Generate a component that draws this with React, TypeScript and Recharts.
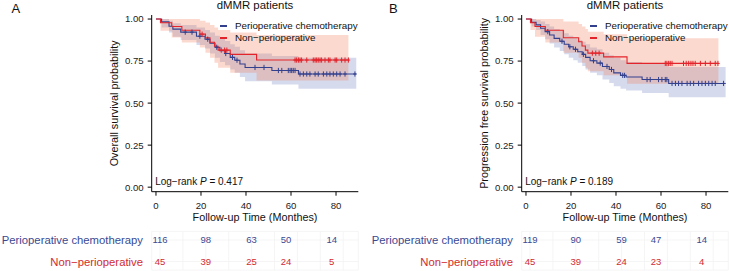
import React from 'react';
import { ComposedChart, Line, Area, Scatter, XAxis, YAxis, Legend, Label, CartesianGrid } from 'recharts';

const FONT = '"Liberation Sans", Arial, Helvetica, sans-serif';
const BLUE = '#33408D';
const RED = '#E3242B';
const BLUE_BAND = '#5565B5';
const RED_BAND = '#F07850';
const BLUE_TEXT = '#3B4992';
const RED_TEXT = '#D22B2F';

const groupNames = ['Perioperative chemotherapy', 'Non\u2212perioperative'];
const timeTicks = [0, 20, 40, 60, 80];
const survTicks = [0, 0.25, 0.5, 0.75, 1];
const gridTicks = [0, 10, 20, 30, 40, 50, 60, 70, 80];

// Panel A: overall survival
const osPeriTime = [0, 2.5, 5.8, 7.5, 11, 18, 21.8, 24, 26.2, 28.4, 30.7, 33, 35, 37.3, 39.6, 51.5, 63.3, 89];
const osPeriSurv = [1, 0.983, 0.957, 0.94, 0.922, 0.898, 0.88, 0.856, 0.832, 0.812, 0.795, 0.772, 0.755, 0.733, 0.712, 0.694, 0.673, 0.673];
const osPeriLower = [1, 0.95, 0.92, 0.895, 0.875, 0.845, 0.825, 0.795, 0.77, 0.745, 0.725, 0.7, 0.68, 0.655, 0.63, 0.61, 0.585, 0.585];
const osPeriUpper = [1, 1, 0.99, 0.975, 0.965, 0.95, 0.935, 0.92, 0.9, 0.885, 0.87, 0.85, 0.835, 0.815, 0.795, 0.78, 0.77, 0.77];
const osPeriCensor = [13, 16, 19.5, 23, 27, 31, 34, 36, 44, 48, 54.4, 55.9, 58.8, 59.6, 60.3, 61, 61.8, 64, 65.5, 67, 68.4, 70.7, 72.1, 74.4, 75.9, 77.3, 78.8, 80.3, 81.8, 84, 88.4];

const osNonTime = [0, 2, 7, 11.5, 19.5, 22, 24, 26, 27.6, 33, 44.7, 85.5];
const osNonSurv = [1, 0.978, 0.956, 0.933, 0.91, 0.888, 0.862, 0.838, 0.815, 0.79, 0.756, 0.756];
const osNonLower = [1, 0.93, 0.89, 0.86, 0.83, 0.8, 0.77, 0.74, 0.71, 0.68, 0.635, 0.635];
const osNonUpper = [1, 1, 1, 1, 0.99, 0.98, 0.965, 0.95, 0.935, 0.92, 0.905, 0.905];
const osNonCensor = [20.5, 29, 30.5, 31.5, 61.8, 62.5, 63.3, 64, 64.7, 67, 69.9, 70.7, 71.4, 72.1, 72.9, 73.6, 75.1, 76.6, 77.3, 79.6, 80.3, 82.5, 84, 85.5];

// Panel B: progression free survival
const pfsPeriTime = [0, 2.5, 4.5, 6.5, 8.5, 10.5, 12.5, 15, 17, 19, 21, 23, 25, 26.5, 28.5, 31.5, 34, 37, 39, 42, 44.5, 51.6, 63.4, 88.7];
const pfsPeriSurv = [1, 0.98, 0.965, 0.945, 0.925, 0.905, 0.885, 0.868, 0.85, 0.835, 0.82, 0.805, 0.79, 0.772, 0.752, 0.738, 0.718, 0.7, 0.68, 0.665, 0.655, 0.64, 0.617, 0.617];
const pfsPeriLower = [1, 0.955, 0.935, 0.905, 0.88, 0.855, 0.83, 0.81, 0.79, 0.77, 0.755, 0.74, 0.72, 0.7, 0.68, 0.665, 0.64, 0.62, 0.6, 0.585, 0.575, 0.56, 0.535, 0.535];
const pfsPeriUpper = [1, 1, 0.995, 0.985, 0.97, 0.955, 0.94, 0.93, 0.915, 0.9, 0.89, 0.875, 0.865, 0.85, 0.83, 0.82, 0.8, 0.785, 0.77, 0.755, 0.745, 0.735, 0.715, 0.715];
const pfsPeriCensor = [9.7, 16, 19.5, 22, 25.5, 30, 33, 36, 38, 43, 43.8, 53.8, 55.2, 58.9, 60.4, 61.9, 62.6, 64.9, 66.4, 67.8, 69.3, 71.6, 73, 74.5, 76.7, 78.2, 79.7, 81.2, 82.7, 84.1, 87.8];

const pfsNonTime = [0, 2, 4, 8.6, 16.6, 23.4, 24.9, 26.4, 27.5, 34.5, 44.9, 85.5];
const pfsNonSurv = [1, 0.978, 0.956, 0.933, 0.889, 0.865, 0.84, 0.815, 0.797, 0.775, 0.736, 0.736];
const pfsNonLower = [1, 0.935, 0.895, 0.86, 0.8, 0.77, 0.74, 0.71, 0.69, 0.665, 0.615, 0.615];
const pfsNonUpper = [1, 1, 1, 1, 0.985, 0.97, 0.955, 0.94, 0.925, 0.91, 0.885, 0.885];
const pfsNonCensor = [29.5, 31, 32.5, 61.9, 62.6, 63.4, 64.1, 64.9, 70, 71.2, 72.3, 73.3, 74.2, 75.2, 77.5, 79.7, 81.9, 84.1, 85.3];

// Risk tables
const riskTimes = [0, 20, 40, 55, 75];
const osRiskPeri = [116, 98, 63, 50, 14];
const osRiskNon = [45, 39, 25, 24, 5];
const pfsRiskPeri = [119, 90, 59, 47, 14];
const pfsRiskNon = [45, 39, 24, 23, 4];

const buildSteps = (time: number[], surv: number[], lo: number[], hi: number[]) =>
  time.map((t, i) => ({ t, s: surv[i], lo: lo[i], hi: hi[i] }));

const survAt = (time: number[], surv: number[], t: number) => {
  let v = surv[0];
  for (let i = 0; i < time.length; i++) if (time[i] <= t) v = surv[i];
  return v;
};

const buildCensor = (time: number[], surv: number[], cens: number[]) =>
  cens.map((t) => ({ t, s: survAt(time, surv, t) }));

const censorShape = (color: string) => (p: any) => {
  const { cx, cy } = p;
  if (cx == null || cy == null) return <g />;
  return (
    <g>
      <line x1={cx} x2={cx} y1={cy - 2.6} y2={cy + 2.6} stroke={color} strokeWidth={1} />
      <line x1={cx - 1.8} x2={cx + 1.8} y1={cy} y2={cy} stroke={color} strokeWidth={1} />
    </g>
  );
};

const renderLegend = (props: any) => {
  const items = (props.payload || [])
    .filter((p: any) => p.type !== 'none' && groupNames.includes(p.value))
    .sort((a: any, b: any) => groupNames.indexOf(a.value) - groupNames.indexOf(b.value));
  return (
    <div style={{ fontFamily: FONT, fontSize: 9.8, color: '#111', whiteSpace: 'nowrap' }}>
      {items.map((p: any) => (
        <div key={p.value} style={{ display: 'flex', alignItems: 'center', height: 12 }}>
          <span style={{ display: 'inline-block', width: 7, height: 1.4, background: p.color, marginRight: 8 }} />
          <span style={{ lineHeight: '12px' }}>{p.value}</span>
        </div>
      ))}
    </div>
  );
};

const tickStyle = { fill: '#1a1a1a', fontSize: 9.6, fontFamily: FONT };

function KMPanel(props: any) {
  const { left, width, yTitle, pText, peri, non, periCens, nonCens } = props;
  return (
    <div style={{ position: 'absolute', left, top: 0 }}>
      <ComposedChart width={width} height={230} margin={{ top: 15, right: width - 358.3, bottom: 8.3, left: 111.7 }}>
        <XAxis
          type="number"
          dataKey="t"
          domain={[-1.9, 89.9]}
          allowDataOverflow
          ticks={timeTicks}
          tickSize={4}
          tickMargin={6}
          height={30}
          stroke="#000"
          tick={tickStyle}
        >
          <Label
            content={(lp: any) => {
              const vb = lp.viewBox;
              return (
                <text x={vb.x + vb.width / 2} y={vb.y + 29.6} textAnchor="middle" fontFamily={FONT} fontSize={10.8} fill="#111">
                  Follow-up Time (Monthes)
                </text>
              );
            }}
          />
          <Label
            content={(lp: any) => {
              const vb = lp.viewBox;
              return (
                <text x={vb.x + 3.5} y={vb.y - 6.7} textAnchor="start" fontFamily={FONT} fontSize={10} fill="#111">
                  {'Log\u2212rank '}
                  <tspan fontStyle="italic">P</tspan>
                  {' = ' + pText}
                </text>
              );
            }}
          />
        </XAxis>
        <YAxis
          type="number"
          domain={[-0.027, 1.024]}
          allowDataOverflow
          ticks={survTicks}
          tickFormatter={(v: number) => v.toFixed(2)}
          tickSize={4}
          tickMargin={4}
          width={40}
          stroke="#000"
          tick={tickStyle}
        >
          <Label
            content={(lp: any) => {
              const vb = lp.viewBox;
              const cx = vb.x + vb.width - 37.7;
              const cy = vb.y + vb.height / 2;
              return (
                <text
                  x={cx}
                  y={cy}
                  transform={`rotate(-90 ${cx} ${cy})`}
                  textAnchor="middle"
                  dominantBaseline="central"
                  fontFamily={FONT}
                  fontSize={10.8}
                  fill="#111"
                >
                  {yTitle}
                </text>
              );
            }}
          />
        </YAxis>
        <Area
          data={peri}
          dataKey={(d: any) => [d.lo, d.hi]}
          type="stepAfter"
          fill={BLUE_BAND}
          fillOpacity={0.24}
          stroke="none"
          legendType="none"
          isAnimationActive={false}
        />
        <Area
          data={non}
          dataKey={(d: any) => [d.lo, d.hi]}
          type="stepAfter"
          fill={RED_BAND}
          fillOpacity={0.28}
          stroke="none"
          legendType="none"
          isAnimationActive={false}
        />
        <Line data={peri} dataKey="s" name={groupNames[0]} type="stepAfter" stroke={BLUE} strokeWidth={1.1} dot={false} isAnimationActive={false} />
        <Line data={non} dataKey="s" name={groupNames[1]} type="stepAfter" stroke={RED} strokeWidth={1.1} dot={false} isAnimationActive={false} />
        <Scatter data={periCens} dataKey="s" name="periCensor" shape={censorShape(BLUE)} legendType="none" isAnimationActive={false} />
        <Scatter data={nonCens} dataKey="s" name="nonCensor" shape={censorShape(RED)} legendType="none" isAnimationActive={false} />
        <Legend
          layout="vertical"
          align="center"
          verticalAlign="middle"
          content={renderLegend}
          wrapperStyle={{ left: 220, top: 20, width: 160 }}
        />
      </ComposedChart>
    </div>
  );
}

const RowTick = (p: any) => {
  const v = p.payload?.value;
  const idx = v === 2 ? 0 : 1;
  return (
    <text x={p.x} y={p.y} dy="0.355em" textAnchor="end" fontFamily={FONT} fontSize={11.3} fill={idx === 0 ? BLUE_TEXT : RED_TEXT}>
      {groupNames[idx]}
    </text>
  );
};

const riskTextShape = (color: string) => (p: any) => {
  const { cx, cy, payload } = p;
  if (cx == null || cy == null) return <g />;
  return (
    <text x={cx} y={cy} dy="0.355em" textAnchor="middle" fontFamily={FONT} fontSize={9.5} fill={color}>
      {payload.n}
    </text>
  );
};

function RiskTable(props: any) {
  const { left, width, periN, nonN } = props;
  const periRows = riskTimes.map((t, i) => ({ t, row: 2, n: periN[i] }));
  const nonRows = riskTimes.map((t, i) => ({ t, row: 1, n: nonN[i] }));
  return (
    <div style={{ position: 'absolute', left, top: 225 }}>
      <ComposedChart width={width} height={46} margin={{ top: 6.4, right: width - 358.3, bottom: 0.9, left: 0 }}>
        <CartesianGrid stroke="#F3F3F3" strokeWidth={0.8} />
        <XAxis type="number" dataKey="t" domain={[-3.63, 86.6]} allowDataOverflow ticks={gridTicks} hide />
        <YAxis
          type="number"
          domain={[0.6, 2.4]}
          allowDataOverflow
          ticks={[1, 2]}
          interval={0}
          width={151.7}
          axisLine={false}
          tickLine={false}
          tickSize={0}
          tickMargin={8.7}
          tick={<RowTick />}
        />
        <Scatter data={periRows} dataKey="row" name="periRisk" shape={riskTextShape(BLUE_TEXT)} legendType="none" isAnimationActive={false} />
        <Scatter data={nonRows} dataKey="row" name="nonRisk" shape={riskTextShape(RED_TEXT)} legendType="none" isAnimationActive={false} />
      </ComposedChart>
    </div>
  );
}

const letterStyle = (left: number): React.CSSProperties => ({
  position: 'absolute',
  left,
  top: 2,
  fontFamily: FONT,
  fontSize: 13,
  lineHeight: '13px',
  color: '#111',
});

const titleStyle = (left: number): React.CSSProperties => ({
  position: 'absolute',
  left,
  width: 206.6,
  top: 0.4,
  textAlign: 'center',
  fontFamily: FONT,
  fontSize: 11.4,
  lineHeight: '11.4px',
  color: '#111',
  whiteSpace: 'nowrap',
});

export default function App() {
  const osPeri = buildSteps(osPeriTime, osPeriSurv, osPeriLower, osPeriUpper);
  const osNon = buildSteps(osNonTime, osNonSurv, osNonLower, osNonUpper);
  const pfsPeri = buildSteps(pfsPeriTime, pfsPeriSurv, pfsPeriLower, pfsPeriUpper);
  const pfsNon = buildSteps(pfsNonTime, pfsNonSurv, pfsNonLower, pfsNonUpper);
  return (
    <div
      style={{
        position: 'absolute',
        left: 0,
        top: 0,
        width: 729,
        height: 271,
        overflow: 'hidden',
        background: '#fff',
        fontFamily: FONT,
      }}
    >
      <KMPanel
        left={0}
        width={365}
        yTitle="Overall survival probability"
        pText="0.417"
        peri={osPeri}
        non={osNon}
        periCens={buildCensor(osPeriTime, osPeriSurv, osPeriCensor)}
        nonCens={buildCensor(osNonTime, osNonSurv, osNonCensor)}
      />
      <KMPanel
        left={370}
        width={359}
        yTitle="Progression free survival probability"
        pText="0.189"
        peri={pfsPeri}
        non={pfsNon}
        periCens={buildCensor(pfsPeriTime, pfsPeriSurv, pfsPeriCensor)}
        nonCens={buildCensor(pfsNonTime, pfsNonSurv, pfsNonCensor)}
      />
      <RiskTable left={0} width={365} periN={osRiskPeri} nonN={osRiskNon} />
      <RiskTable left={370} width={359} periN={pfsRiskPeri} nonN={pfsRiskNon} />
      <div style={letterStyle(11.5)}>A</div>
      <div style={letterStyle(389)}>B</div>
      <div style={titleStyle(151.7)}>dMMR patients</div>
      <div style={titleStyle(521.7)}>dMMR patients</div>
    </div>
  );
}
